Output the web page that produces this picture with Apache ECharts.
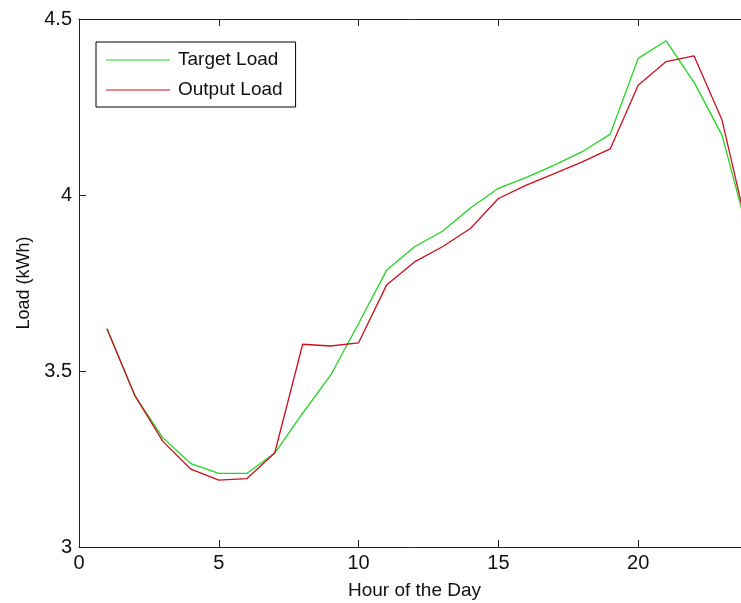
<!DOCTYPE html>
<html>
<head>
<meta charset="utf-8">
<script src="https://cdn.jsdelivr.net/npm/echarts@6/dist/echarts.min.js"></script>
<style>
    html, body { margin: 0; padding: 0; background: #fff; }
    #chart { width: 741px; height: 603px; }
</style>
</head>
<body>
<div id="chart"></div>
<script>
// hour of the day
var hours = [1, 2, 3, 4, 5, 6, 7, 8, 9, 10, 11, 12, 13, 14, 15, 16, 17, 18, 19, 20, 21, 22, 23, 24];
// load in kWh
var targetLoad = [3.62, 3.43, 3.31, 3.237, 3.209, 3.209, 3.267, 3.38, 3.488, 3.635, 3.786, 3.853, 3.897, 3.963, 4.019, 4.05, 4.085, 4.123, 4.173, 4.388, 4.438, 4.32, 4.17, 3.87];
var outputLoad = [3.62, 3.43, 3.30, 3.221, 3.19, 3.194, 3.267, 3.576, 3.571, 3.58, 3.744, 3.81, 3.853, 3.905, 3.99, 4.028, 4.061, 4.094, 4.131, 4.312, 4.379, 4.395, 4.213, 3.87];
var xTicks = [0, 5, 10, 15, 20];
var yTicks = [3, 3.5, 4, 4.5];

function toPairs(ys) {
    var arr = [];
    for (var i = 0; i < hours.length; i++) {
        arr.push([hours[i], ys[i]]);
    }
    return arr;
}

var chart = echarts.init(document.getElementById('chart'), null, { renderer: 'canvas' });
var font = 'Liberation Sans';

var option = {
    animation: false,
    backgroundColor: '#fff',
    textStyle: { fontFamily: font },
    grid: {
        left: 79,
        top: 19,
        width: 671,   // wider than the window: the original picture is cut off at the right
        bottom: 56,
        outerBoundsMode: 'none'
    },
    legend: {
        orient: 'vertical',
        left: 96,
        top: 42,
        padding: [8, 13, 7, 10],
        itemGap: 10,
        itemWidth: 64,
        itemHeight: 1.2,
        icon: 'rect',
        borderColor: '#000',
        borderWidth: 1,
        backgroundColor: '#fff',
        textStyle: { fontFamily: font, fontSize: 19, lineHeight: 20, color: '#111', padding: [0, 0, 0, 3] },
        data: ['Target Load', 'Output Load']
    },
    xAxis: [{
        type: 'value',
        min: 0,
        max: 24,
        interval: 5,
        name: 'Hour of the Day',
        nameLocation: 'middle',
        nameGap: 34,
        nameTextStyle: { fontFamily: font, fontSize: 19, color: '#111' },
        axisLine: { show: true, lineStyle: { color: '#222', width: 1 } },
        axisTick: { show: true, inside: true, length: 7, lineStyle: { color: '#222' } },
        axisLabel: {
            fontFamily: font, fontSize: 20, color: '#111', margin: 6,
            showMaxLabel: false,
            formatter: function (v) { return xTicks.indexOf(v) >= 0 ? String(v) : ''; }
        },
        splitLine: { show: false }
    }, {
        type: 'value',
        position: 'top',
        min: 0,
        max: 24,
        interval: 5,
        axisLine: { show: true, onZero: false, lineStyle: { color: '#222', width: 1 } },
        axisTick: { show: true, inside: true, length: 7, lineStyle: { color: '#222' } },
        axisLabel: { show: false },
        splitLine: { show: false }
    }],
    yAxis: {
        type: 'value',
        min: 3,
        max: 4.5,
        interval: 0.5,
        name: 'Load (kWh)',
        nameLocation: 'middle',
        nameGap: 46,
        nameTextStyle: { fontFamily: font, fontSize: 18, color: '#111' },
        axisLine: { show: true, lineStyle: { color: '#222', width: 1 } },
        axisTick: { show: true, inside: true, length: 7, lineStyle: { color: '#222' } },
        axisLabel: {
            fontFamily: font, fontSize: 20, color: '#111', margin: 7,
            formatter: function (v) { return yTicks.indexOf(v) >= 0 ? String(v) : ''; }
        },
        splitLine: { show: false }
    },
    series: [{
        name: 'Target Load',
        type: 'line',
        data: toPairs(targetLoad),
        symbol: 'none',
        lineStyle: { color: '#22d622', width: 1.3 },
        itemStyle: { color: '#22d622' }
    }, {
        name: 'Output Load',
        type: 'line',
        data: toPairs(outputLoad),
        symbol: 'none',
        lineStyle: { color: '#cc1020', width: 1.3 },
        itemStyle: { color: '#cc1020' }
    }]
};

chart.setOption(option);
</script>
</body>
</html>
